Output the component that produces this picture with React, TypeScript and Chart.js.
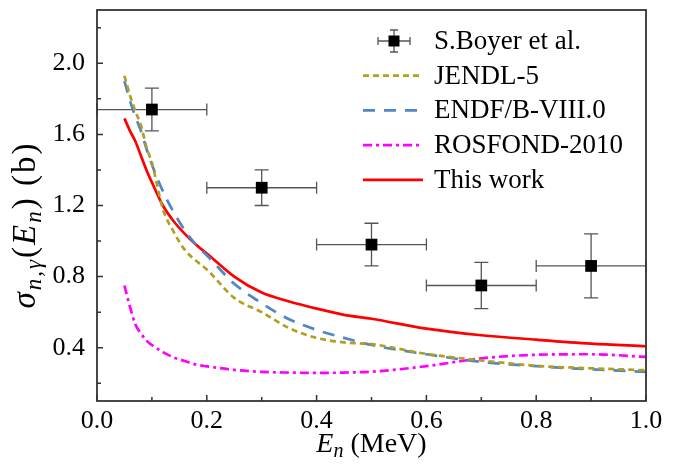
import React, { useEffect, useRef } from 'react';
import { Chart, registerables } from 'chart.js';

Chart.register(...registerables);

// ---- data ----
const energyGrid = [0.05, 0.06, 0.07, 0.08, 0.09, 0.1, 0.12, 0.14, 0.16, 0.18, 0.2, 0.25, 0.3, 0.35, 0.4, 0.45, 0.5, 0.6, 0.7, 0.8, 0.9, 1.0];
const jendl5 = [1.93, 1.82, 1.73, 1.65, 1.53, 1.44, 1.18, 1.05, 0.95, 0.89, 0.84, 0.68, 0.6, 0.51, 0.455, 0.43, 0.42, 0.365, 0.328, 0.298, 0.284, 0.273];
const endf8 = [1.9, 1.79, 1.7, 1.62, 1.52, 1.43, 1.28, 1.16, 1.06, 0.98, 0.92, 0.76, 0.65, 0.56, 0.5, 0.455, 0.415, 0.363, 0.32, 0.296, 0.278, 0.264];
const rosfond = [0.75, 0.63, 0.53, 0.48, 0.44, 0.415, 0.375, 0.345, 0.325, 0.305, 0.295, 0.275, 0.264, 0.26, 0.258, 0.26, 0.265, 0.296, 0.34, 0.36, 0.363, 0.348];
const thisWork = [1.69, 1.62, 1.56, 1.48, 1.4, 1.33, 1.2, 1.11, 1.04, 0.98, 0.93, 0.8, 0.71, 0.66, 0.62, 0.585, 0.563, 0.507, 0.47, 0.445, 0.423, 0.408];

const boyerE = [0.1, 0.3, 0.5, 0.7, 0.9];
const boyerSigma = [1.74, 1.3, 0.98, 0.75, 0.86];
const boyerEErr = [0.1, 0.1, 0.1, 0.1, 0.1];
const boyerSigmaErr = [0.12, 0.1, 0.12, 0.13, 0.18];

const xMajorTicks = [0, 0.2, 0.4, 0.6, 0.8, 1.0];
const xMinorTicks = [0.1, 0.3, 0.5, 0.7, 0.9];
const yMajorTicks = [0.4, 0.8, 1.2, 1.6, 2.0];
const yMinorTicks = [0.2, 0.6, 1.0, 1.4, 1.8, 2.2];

const seriesLabels = ['S.Boyer et al.', 'JENDL-5', 'ENDF/B-VIII.0', 'ROSFOND-2010', 'This work'];

const FONT = '"Liberation Serif", "Times New Roman", serif';

function toPoints(ys: number[]) {
  return energyGrid.map((x, i) => ({ x, y: ys[i] }));
}

type Part = { t: string; italic?: boolean; sub?: boolean };

function drawRich(ctx: CanvasRenderingContext2D, parts: Part[], size: number, subSize: number, subShift: number, spacing: number) {
  const fontOf = (p: Part) => `${p.italic ? 'italic ' : ''}${p.sub ? subSize : size}px ${FONT}`;
  (ctx as any).letterSpacing = `${spacing}px`;
  let w = 0;
  const widths = parts.map((p) => {
    ctx.font = fontOf(p);
    const m = ctx.measureText(p.t).width;
    w += m;
    return m;
  });
  let x = -w / 2;
  parts.forEach((p, i) => {
    ctx.font = fontOf(p);
    ctx.fillText(p.t, x, p.sub ? subShift : 0);
    x += widths[i];
  });
  (ctx as any).letterSpacing = '0px';
}

const decorPlugin = {
  id: 'decor',
  beforeDatasetsDraw(chart: any) {
    const { ctx, scales } = chart;
    const xs = scales.x;
    const ys = scales.y;
    ctx.save();
    ctx.strokeStyle = '#555';
    ctx.lineWidth = 1.3;
    boyerE.forEach((e, i) => {
      const px = xs.getPixelForValue(e);
      const py = ys.getPixelForValue(boyerSigma[i]);
      const x0 = xs.getPixelForValue(e - boyerEErr[i]);
      const x1 = xs.getPixelForValue(e + boyerEErr[i]);
      const y0 = ys.getPixelForValue(boyerSigma[i] - boyerSigmaErr[i]);
      const y1 = ys.getPixelForValue(boyerSigma[i] + boyerSigmaErr[i]);
      ctx.beginPath();
      ctx.moveTo(x0, py); ctx.lineTo(x1, py);
      ctx.moveTo(x0, py - 6); ctx.lineTo(x0, py + 6);
      ctx.moveTo(x1, py - 6); ctx.lineTo(x1, py + 6);
      ctx.moveTo(px, y0); ctx.lineTo(px, y1);
      ctx.moveTo(px - 7, y0); ctx.lineTo(px + 7, y0);
      ctx.moveTo(px - 7, y1); ctx.lineTo(px + 7, y1);
      ctx.stroke();
    });
    ctx.restore();
  },
  afterDraw(chart: any) {
    const { ctx, chartArea, scales } = chart;
    const xs = scales.x;
    const ys = scales.y;
    const { left, right, top, bottom } = chartArea;
    ctx.save();
    // frame
    ctx.strokeStyle = '#333';
    ctx.lineWidth = 1.8;
    ctx.strokeRect(left, top, right - left, bottom - top);
    // inward ticks
    ctx.lineWidth = 1.5;
    ctx.beginPath();
    xMajorTicks.forEach((v) => { const p = xs.getPixelForValue(v); ctx.moveTo(p, bottom); ctx.lineTo(p, bottom - 6); });
    xMinorTicks.forEach((v) => { const p = xs.getPixelForValue(v); ctx.moveTo(p, bottom); ctx.lineTo(p, bottom - 4); });
    yMajorTicks.forEach((v) => { const p = ys.getPixelForValue(v); ctx.moveTo(left, p); ctx.lineTo(left + 6, p); });
    yMinorTicks.forEach((v) => { const p = ys.getPixelForValue(v); ctx.moveTo(left, p); ctx.lineTo(left + 4, p); });
    ctx.stroke();

    // legend
    const ds = chart.data.datasets;
    const rowY0 = top + 31;
    const rowH = 34.7;
    const lineX0 = right - 283;
    const lineX1 = right - 223;
    const textX = right - 212;
    ctx.textBaseline = 'middle';
    ctx.fillStyle = '#000';
    ctx.font = `27px ${FONT}`;
    {
      const cx = (lineX0 + lineX1) / 2 + 1;
      const cy = rowY0;
      ctx.strokeStyle = '#555';
      ctx.lineWidth = 1.3;
      ctx.beginPath();
      ctx.moveTo(cx - 16, cy); ctx.lineTo(cx + 16, cy);
      ctx.moveTo(cx - 16, cy - 4); ctx.lineTo(cx - 16, cy + 4);
      ctx.moveTo(cx + 16, cy - 4); ctx.lineTo(cx + 16, cy + 4);
      ctx.moveTo(cx, cy - 11); ctx.lineTo(cx, cy + 11);
      ctx.moveTo(cx - 4, cy - 11); ctx.lineTo(cx + 4, cy - 11);
      ctx.moveTo(cx - 4, cy + 11); ctx.lineTo(cx + 4, cy + 11);
      ctx.stroke();
      ctx.fillStyle = '#000';
      ctx.fillRect(cx - 5.5, cy - 5.5, 11, 11);
      ctx.fillText(ds[0].label, textX, cy + 1);
    }
    for (let i = 1; i < ds.length; i++) {
      const y = rowY0 + rowH * i;
      ctx.save();
      ctx.strokeStyle = ds[i].borderColor;
      ctx.lineWidth = ds[i].borderWidth;
      ctx.setLineDash(ds[i].borderDash || []);
      ctx.beginPath();
      ctx.moveTo(lineX0, y);
      ctx.lineTo(lineX1, y);
      ctx.stroke();
      ctx.restore();
      ctx.fillStyle = '#000';
      ctx.fillText(ds[i].label, textX, y + 1);
    }

    // x title
    ctx.textBaseline = 'alphabetic';
    ctx.save();
    ctx.translate((left + right) / 2, 452);
    drawRich(ctx, [
      { t: 'E', italic: true },
      { t: 'n', italic: true, sub: true },
      { t: ' (MeV)' },
    ], 28, 20, 5, 0);
    ctx.restore();

    // y title
    ctx.save();
    ctx.translate(35, 225);
    ctx.rotate(-Math.PI / 2);
    drawRich(ctx, [
      { t: 'σ', italic: true },
      { t: 'n,γ', italic: true, sub: true },
      { t: '(' },
      { t: 'E', italic: true },
      { t: 'n', italic: true, sub: true },
      { t: ') (b)' },
    ], 33, 23, 6, 2);
    ctx.restore();
    ctx.restore();
  },
};

export default function App() {
  const canvasRef = useRef<HTMLCanvasElement | null>(null);

  useEffect(() => {
    document.body.style.margin = '0';
    const canvas = canvasRef.current;
    if (!canvas) return;
    const lineDs = (label: string, ys: number[], color: string, dash: number[], width: number) => ({
      type: 'line' as const,
      label,
      data: toPoints(ys),
      borderColor: color,
      backgroundColor: color,
      borderWidth: width,
      borderDash: dash,
      pointRadius: 0,
      fill: false,
      showLine: true,
      cubicInterpolationMode: 'monotone' as const,
    });
    const chart = new Chart(canvas, {
      type: 'scatter',
      data: {
        datasets: [
          {
            label: seriesLabels[0],
            data: boyerE.map((x, i) => ({ x, y: boyerSigma[i] })),
            pointStyle: 'rect',
            pointRadius: 8.3,
            backgroundColor: '#000',
            borderColor: '#000',
            borderWidth: 0,
          } as any,
          lineDs(seriesLabels[1], jendl5, '#b0a020', [6, 4], 2.7),
          lineDs(seriesLabels[2], endf8, '#4f86c6', [12, 9], 2.7),
          lineDs(seriesLabels[3], rosfond, '#ff00ff', [9, 4, 3, 4], 2.7),
          lineDs(seriesLabels[4], thisWork, '#ff0000', [], 2.7),
        ],
      },
      options: {
        animation: false,
        responsive: false,
        maintainAspectRatio: false,
        layout: { padding: { top: 10, right: 41, left: 0, bottom: 0 } },
        plugins: {
          legend: { display: false },
          tooltip: { enabled: false },
        },
        scales: {
          x: {
            type: 'linear',
            min: 0,
            max: 1,
            grid: { display: false, drawTicks: false },
            border: { display: false },
            afterBuildTicks: (scale: any) => { scale.ticks = xMajorTicks.map((v) => ({ value: v })); },
            afterFit: (scale: any) => { scale.height = 69; scale.paddingLeft = 0; scale.paddingRight = 0; },
            ticks: {
              padding: 5,
              color: '#000',
              font: { family: FONT, size: 26 },
              maxRotation: 0,
              callback: (v: any) => Number(v).toFixed(1),
            },
          },
          y: {
            type: 'linear',
            min: 0.1,
            max: 2.3,
            grid: { display: false, drawTicks: false },
            border: { display: false },
            afterBuildTicks: (scale: any) => { scale.ticks = yMajorTicks.map((v) => ({ value: v })); },
            afterFit: (scale: any) => { scale.width = 97; scale.paddingTop = 0; scale.paddingBottom = 0; },
            ticks: {
              padding: 12,
              color: '#000',
              font: { family: FONT, size: 26 },
              callback: (v: any) => Number(v).toFixed(1),
            },
          },
        },
      },
      plugins: [decorPlugin],
    } as any);
    return () => chart.destroy();
  }, []);

  return (
    <div style={{ width: 687, height: 470 }}>
      <canvas ref={canvasRef} width={687} height={470} style={{ display: 'block', width: 687, height: 470 }} />
    </div>
  );
}
